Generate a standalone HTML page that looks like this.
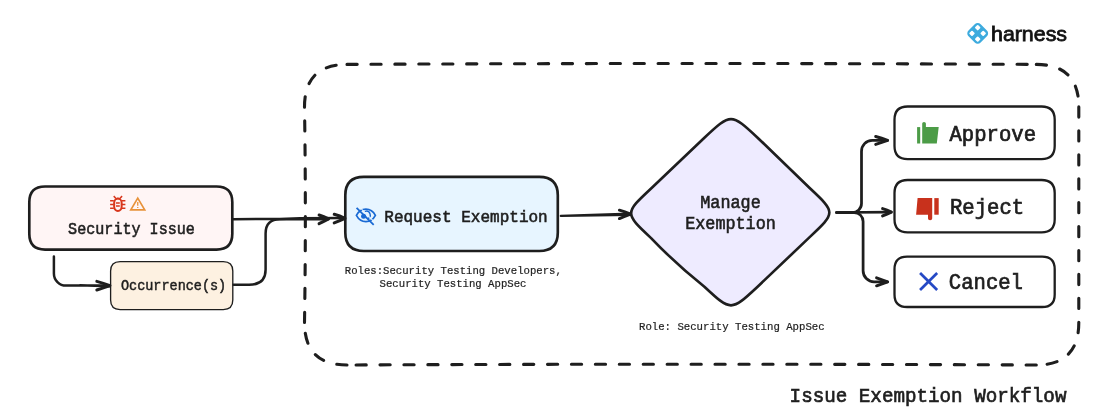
<!DOCTYPE html>
<html><head><meta charset="utf-8">
<style>
html,body{margin:0;padding:0;background:#fff;}
body{width:1103px;height:418px;overflow:hidden;}
svg{display:block;will-change:transform;}
text{font-family:"Liberation Mono",monospace;fill:#1e1e1e;stroke:#1e1e1e;paint-order:stroke;}
.ln{fill:none;stroke:#1e1e1e;stroke-width:2.5;stroke-linecap:round;stroke-linejoin:round;}
.bx{stroke:#1e1e1e;stroke-width:2.65;stroke-linejoin:round;}
</style></head><body>
<svg width="1103" height="418" viewBox="0 0 1103 418">
<rect width="1103" height="418" fill="#ffffff"/>

<!-- dashed frame -->
<path d="M347.0 64.4 Q691.65 62.60000000000001 1036.3 64.4 M1036.3 64.4 Q1078.8 64.4 1078.8 106.9 M1078.8 106.9 L1078.8 322.5 M1078.8 322.5 Q1078.8 365.0 1036.3 365.0 M1036.3 365.0 Q691.65 363.4 347.0 365.0 M347.0 365.0 Q304.5 365.0 304.5 322.5 M304.5 322.5 Q306.2 214.7 304.5 106.9 M304.5 106.9 Q304.5 64.4 347.0 64.4" fill="none" stroke="#1e1e1e" stroke-width="3.1" stroke-linecap="round" stroke-dasharray="10.2 13.73"/>

<!-- Security Issue -->
<path class="bx" d="M45.05 186.50 L216.55 186.50 Q232.30 186.50 232.30 202.25 L232.30 233.85 Q232.30 249.60 216.55 249.60 L45.05 249.60 Q29.30 249.60 29.30 233.85 L29.30 202.25 Q29.30 186.50 45.05 186.50 Z" fill="#fff5f5"/>
<text transform="translate(131.5 233.8) scale(1 1.07)" font-size="15.1" stroke-width="0.5" text-anchor="middle">Security Issue</text>
<!-- bug icon -->
<g fill="none" stroke="#d8361c" stroke-linecap="butt">
  <rect x="114.15" y="198.5" width="7.5" height="12.5" rx="3.75" ry="4.4" stroke-width="2"/>
  <path d="M115.2 199.4 Q117.9 197.6 120.6 199.4" stroke-width="1.6"/>
  <path d="M113.7 196.1 L115.8 198.2 M122.1 196.1 L120 198.2" stroke-width="1.5"/>
  <path d="M110.1 200.7 H113.8 M110.1 204.6 H113.8 M110.1 208.2 H113.8 M122 200.7 H125.4 M122 204.6 H125.4 M122 208.2 H125.4" stroke-width="1.5"/>
  <path d="M116 202.9 H119.8 M116 206.1 H119.8" stroke-width="1.5"/>
</g>
<!-- warning icon -->
<g fill="none" stroke="#e8923a" stroke-width="1.7" stroke-linejoin="miter">
  <path d="M137.75 198.1 L144.7 209.9 H130.8 Z"/>
  <path d="M137.75 202 V205.8 M137.75 206.9 V208.1" stroke-width="1.3"/>
</g>

<!-- Occurrence(s) -->
<path d="M120.10 261.60 L223.30 261.60 Q232.80 261.60 232.80 271.10 L232.80 300.10 Q232.80 309.60 223.30 309.60 L120.10 309.60 Q110.60 309.60 110.60 300.10 L110.60 271.10 Q110.60 261.60 120.10 261.60 Z" fill="#fdf1e1" stroke="#1e1e1e" stroke-width="1.33"/>
<text transform="translate(173.6 290) scale(1 1.07)" font-size="13.5" stroke-width="0.45" text-anchor="middle">Occurrence(s)</text>

<!-- Request Exemption -->
<path class="bx" d="M363.80 176.80 L539.30 176.80 Q557.80 176.80 557.80 195.30 L557.80 232.50 Q557.80 251.00 539.30 251.00 L363.80 251.00 Q345.30 251.00 345.30 232.50 L345.30 195.30 Q345.30 176.80 363.80 176.80 Z" fill="#e7f5ff"/>
<text transform="translate(466 222.3) scale(1 1.07)" font-size="16.03" stroke-width="0.53" text-anchor="middle">Request Exemption</text>
<text transform="translate(453.3 273.5) scale(1 1.07)" font-size="10.65" stroke-width="0.2" text-anchor="middle">Roles:Security Testing Developers,</text>
<text transform="translate(453 287) scale(1 1.07)" font-size="10.65" stroke-width="0.2" text-anchor="middle">Security Testing AppSec</text>
<!-- eye-off icon -->
<g fill="none" stroke="#1a6ad4" stroke-width="1.6" stroke-linecap="round">
  <path d="M356.4 215.4 C358.4 211.6 362 209.2 365.9 209.2 C369.8 209.2 373.4 211.6 375.4 215.4 C373.4 219.2 369.8 221.6 365.9 221.6 C362 221.6 358.4 219.2 356.4 215.4 Z" stroke-width="1.7"/>
  <path d="M365.2 211.3 A3.9 3.9 0 0 1 367.9 218.6" stroke-width="1.4"/>
  <circle cx="363.6" cy="216.3" r="2.5" fill="#1a6ad4" stroke="none"/>
  <path d="M361.5 209.2 L375.5 223.2" stroke="#e7f5ff" stroke-width="1.1" stroke-linecap="butt"/>
  <path d="M356.6 207.8 L373.7 224.9" stroke-width="1.8" stroke-linecap="butt"/>
</g>

<!-- Diamond -->
<path class="bx" fill="#eeebff" d="M757.60 137.70 L809.40 187.80 C836.00 212.60 836.00 212.60 809.40 237.40 L757.60 286.70 C731.00 311.50 731.00 311.50 704.40 286.70 Q676.05 264.20 651.10 238.10 C624.50 213.30 624.50 213.30 651.10 188.50 L704.40 137.70 C731.00 112.90 731.00 112.90 757.60 137.70 Z"/>
<text transform="translate(730.5 207.5) scale(1 1.07)" font-size="16.8" stroke-width="0.55" text-anchor="middle">Manage</text>
<text transform="translate(730.5 228.5) scale(1 1.07)" font-size="16.8" stroke-width="0.55" text-anchor="middle">Exemption</text>
<text transform="translate(731.8 329.5) scale(1 1.07)" font-size="10.68" stroke-width="0.2" text-anchor="middle">Role: Security Testing AppSec</text>

<!-- Approve / Reject / Cancel -->
<path class="bx" d="M907.60 106.50 L1041.60 106.50 Q1054.70 106.50 1054.70 119.60 L1054.70 146.00 Q1054.70 159.10 1041.60 159.10 L907.60 159.10 Q894.50 159.10 894.50 146.00 L894.50 119.60 Q894.50 106.50 907.60 106.50 Z" fill="#fff" style="stroke-width:2.3"/>
<path class="bx" d="M907.60 180.00 L1041.60 180.00 Q1054.70 180.00 1054.70 193.10 L1054.70 219.20 Q1054.70 232.30 1041.60 232.30 L907.60 232.30 Q894.50 232.30 894.50 219.20 L894.50 193.10 Q894.50 180.00 907.60 180.00 Z" fill="#fff" style="stroke-width:2.3"/>
<path class="bx" d="M907.10 256.70 L1042.10 256.70 Q1054.70 256.70 1054.70 269.30 L1054.70 294.40 Q1054.70 307.00 1042.10 307.00 L907.10 307.00 Q894.50 307.00 894.50 294.40 L894.50 269.30 Q894.50 256.70 907.10 256.70 Z" fill="#fff" style="stroke-width:2.3"/>
<text transform="translate(949.5 140.7) scale(1 1.07)" font-size="20.6" stroke-width="0.68">Approve</text>
<text transform="translate(950 213.6) scale(1 1.07)" font-size="20.6" stroke-width="0.68">Reject</text>
<text transform="translate(948.8 288.9) scale(1 1.07)" font-size="20.6" stroke-width="0.68">Cancel</text>
<!-- thumbs up -->
<g fill="#4c9c47">
  <rect x="917.1" y="127.1" width="3.1" height="16.4"/>
  <path d="M922.2 143.5 V123.6 Q922.2 122 924 122 Q925.9 122 925.9 123.6 V127.1 H938.7 L936.8 143.5 Z"/>
</g>
<!-- thumbs down -->
<g fill="#c8311c">
  <rect x="934.3" y="198.1" width="4.4" height="16.6"/>
  <path d="M932.2 198.1 V218.5 Q932.2 220.3 930.1 220.3 Q928 220.3 928 218.5 V214.7 H916.1 L917.6 198.1 Z"/>
</g>
<!-- X -->
<path d="M920.05 272.95 L937.15 290.05 M937.15 272.95 L920.05 290.05" stroke="#2549c5" stroke-width="2.7" fill="none" stroke-linecap="butt"/>

<!-- arrows -->
<path class="ln" d="M233.5 219.3 L280 218.9 L300 218.2 L344.5 218.0"/>
<path class="ln" style="stroke-width:3" d="M334.2 214.3 Q339.8 215.9 345 218.4 Q339.8 220.8 334.2 222.9"/>
<path class="ln" d="M233.6 284.8 L249 284.8 Q265.6 284.8 265.6 269.5 L265.6 233.5 Q265.6 219.2 280 219.2 L328 219.3"/>
<path class="ln" style="stroke-width:3" d="M319.1 215 Q323.8 216.5 328.6 218.8 Q323.8 221.3 319.1 223.7"/>
<path class="ln" d="M53.9 256.5 L53.9 273.4 C53.90 280.14 59.36 285.60 66.1 285.6 L109.5 285.6 M80 285.3 L109.5 286.2"/>
<path class="ln" style="stroke-width:2.9" d="M96.8 281.3 Q103.3 283 110 285.6 Q103.3 287.9 96.8 290"/>
<path class="ln" style="stroke-width:2.2" d="M560.8 215.9 L630.3 213.7 M560.8 215.9 L630.3 214.8"/>
<path class="ln" style="stroke-width:2.9" d="M619.4 210.2 Q624.8 211.8 630.6 214.2 Q624.8 216.4 619.4 218.6"/>
<!-- branches -->
<g style="stroke-width:2.75">
<path class="ln" style="stroke-width:inherit" d="M836.6 212.5 L891 212.1"/>
<path class="ln" style="stroke-width:3" d="M882.6 208.6 Q887 210 891.4 212.1 Q887 214.1 882.6 215.9"/>
<path class="ln" style="stroke-width:inherit" d="M836.6 212.5 L852.3 212.5 C857.22 212.50 861.50 208.52 861.5 203.6 L861.5 151.4 C861.50 145.32 866.12 140.40 872.2 140.4 L887.3 140.4"/>
<path class="ln" style="stroke-width:3" d="M875.7 136.5 Q881.5 138.1 887.6 140.4 Q881.5 142.5 875.7 144.4"/>
<path class="ln" style="stroke-width:inherit" d="M836.6 212.5 L854.2 212.5 C859.12 212.50 863.10 216.48 863.1 221.4 L863.1 270.8 C863.10 276.88 868.02 281.80 874.1 281.8 L887.3 281.9"/>
<path class="ln" style="stroke-width:3" d="M876.6 277.8 Q882 279.6 887.6 281.9 Q882 283.9 876.6 285.8"/>
</g>

<!-- title -->
<text transform="translate(789.6 401.8) scale(1 1.07)" font-size="19.24" stroke-width="0.63">Issue Exemption Workflow</text>

<!-- logo -->
<g>
  <rect x="-8.6" y="-8.6" width="17.2" height="17.2" rx="4.2" fill="#3dabde" transform="translate(977.7 33.4) rotate(45)"/>
  <g fill="#fff">
    <rect x="-2.15" y="-2.15" width="4.3" height="4.3" rx="0.9" transform="translate(977.7 27.7) rotate(45)"/>
    <rect x="-2.15" y="-2.15" width="4.3" height="4.3" rx="0.9" transform="translate(977.7 39.1) rotate(45)"/>
    <rect x="-2.15" y="-2.15" width="4.3" height="4.3" rx="0.9" transform="translate(972.0 33.4) rotate(45)"/>
    <rect x="-2.15" y="-2.15" width="4.3" height="4.3" rx="0.9" transform="translate(983.2 33.4) rotate(45)"/>
  </g>
</g>
<text x="991" y="40.8" font-size="20.8" textLength="76" lengthAdjust="spacingAndGlyphs" style="font-family:'Liberation Sans',sans-serif;fill:#111;stroke:#111;stroke-width:0.8">harness</text>
</svg>
</body></html>
